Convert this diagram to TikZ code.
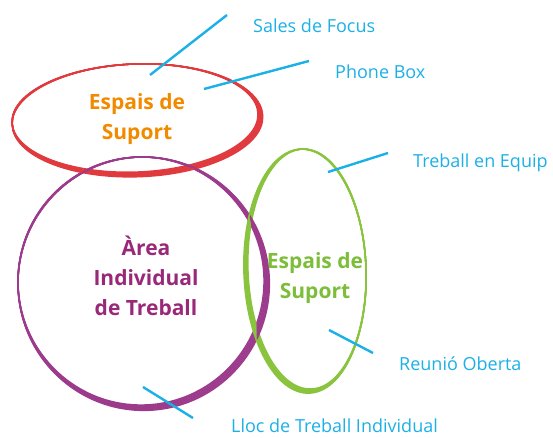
\documentclass[tikz,border=0pt]{standalone}
\usepackage{fontspec}
\setmainfont{Open Sans}
\usetikzlibrary{positioning}
\definecolor{ringred}{HTML}{E0393E}
\definecolor{textorange}{HTML}{F28A00}
\definecolor{ringpurple}{HTML}{9C3A8C}
\definecolor{textpurple}{HTML}{9A2878}
\definecolor{ringgreen}{HTML}{8AC43F}
\definecolor{textgreen}{HTML}{7CBD3A}
\definecolor{leadcyan}{HTML}{1BB0E6}

\begin{document}
\begin{tikzpicture}[x=1pt, y=-1pt,
  zone/.style={font=\fontsize{21}{30}\selectfont\bfseries, align=center, inner sep=0pt},
  tag/.style={font=\fontsize{18}{22}\selectfont, text=leadcyan, anchor=west, inner sep=0pt},
  leader/.style={draw=leadcyan, line width=2.4pt},
  stroke/.style={line width=1.4pt}]
  \useasboundingbox (0,0) rectangle (553,437);
  \foreach \k in {0,...,6}
  {
    \draw[stroke, ringred, rotate around={2:(136,118)}] (135+0.4*\k,118+0.4*\k) ellipse [x radius=123pt+0.4pt*\k, y radius=54pt+0.4pt*\k];
    \draw[stroke, ringpurple] (141+0.45*\k,281+0.45*\k) ellipse [x radius=123pt+0.45pt*\k, y radius=124pt+0.45pt*\k];
    \draw[stroke, ringgreen, rotate around={2:(307,269)}] (307-0.35*\k,269+0.35*\k) ellipse [x radius=59pt+0.35pt*\k, y radius=120pt+0.35pt*\k];
  }

  \node[zone, text=textorange] (supportTop) at (137,119) {Espais de\\Suport};
  \node[zone, text=textpurple] (individual) at (146,276) {Àrea\\Individual\\de Treball};
  \node[zone, text=textgreen] (supportRight) at (315,278) {Espais de\\Suport};

  \node[tag] (focus) at (253,26) {Sales de Focus};
  \node[tag] (phone) at (335,72) {Phone Box};
  \node[tag] (team) at (413,163) {Treball en Equip};
  \node[tag] (meeting) at (399,364) {Reunió Oberta};
  \node[tag] (desk) at (231,426) {Lloc de Treball Individual};

  \coordinate (focusIn) at (150,75);
  \coordinate (phoneIn) at (204,89);
  \coordinate (teamIn) at (328,172);
  \coordinate (meetingIn) at (329,330);
  \coordinate (deskIn) at (143,387);

  \path[leader]
  (focusIn) edge ([shift={(-26,-11)}]focus.west)
  (phoneIn) edge ([shift={(-26,-11)}]phone.west)
  (teamIn) edge ([shift={(-25,-10)}]team.west)
  (meetingIn) edge ([shift={(-26,-11)}]meeting.west)
  (deskIn) edge ([shift={(-38,-8)}]desk.west)
  ;
\end{tikzpicture}
\end{document}
